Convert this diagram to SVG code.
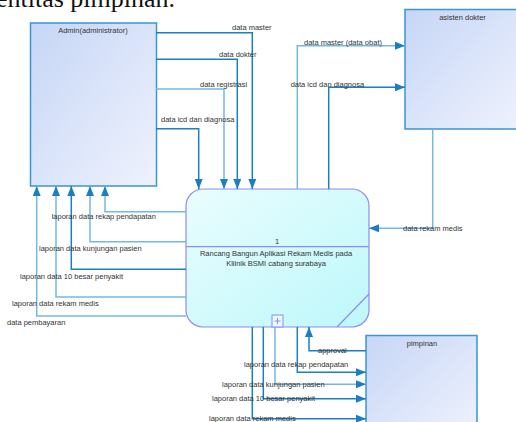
<svg xmlns="http://www.w3.org/2000/svg" width="516" height="422" viewBox="0 0 516 422">
<style>
.ent{stroke:#3a95d2;stroke-width:1.5;fill:url(#gEnt)}
.proc{stroke:#8c8cf2;stroke-width:1.2;fill:url(#gProc)}
.t{font-family:"Liberation Sans",Arial,sans-serif;font-size:7.5px;fill:#333}
.c{fill:none;stroke-width:1.5;marker-end:url(#ah)}
.d{stroke:#1a7fc2}
.l{stroke:#74b8e4}
.ttl{font-family:"Liberation Serif","Times New Roman",serif;font-size:26px;fill:#111}
</style>
<defs>
<linearGradient id="gEnt" x1="0" y1="0" x2="1" y2="1"><stop offset="0" stop-color="#c6d6f6"/><stop offset="1" stop-color="#eff2fd"/></linearGradient>
<linearGradient id="gProc" x1="0" y1="0" x2="1" y2="1"><stop offset="0" stop-color="#eafdfe"/><stop offset="1" stop-color="#bdf8fb"/></linearGradient>
<marker id="ah" markerUnits="userSpaceOnUse" markerWidth="10" markerHeight="8" viewBox="0 0 10 8" refX="10" refY="4" orient="auto"><path d="M0,0 L10,4 L0,8 Z" fill="#1a7fc2"/></marker>
</defs>
<rect width="516" height="422" fill="#fff"/>
<text class="ttl" x="-4" y="7.3">entitas pimpinan.</text>

<g id="admin"><rect class="ent" x="30.5" y="23" width="126" height="163"/><text class="t" x="93" y="33" text-anchor="middle">Admin(administrator)</text></g>
<g id="asisten"><rect class="ent" x="405" y="9.5" width="120" height="119.5"/><text class="t" x="462.5" y="19.5" text-anchor="middle">asisten dokter</text></g>
<g id="pimpinan"><rect class="ent" x="366" y="335.5" width="111" height="100"/><text class="t" x="422" y="346" text-anchor="middle">pimpinan</text></g>
<g id="process">
<rect class="proc" x="186" y="189" width="183" height="138" rx="17"/>
<line x1="186" y1="246.7" x2="369" y2="246.7" stroke="#8c8cf2" stroke-width="1.2"/>
<line x1="369" y1="294" x2="337" y2="327" stroke="#8c8cf2" stroke-width="1.2"/>
<text class="t" x="277" y="243.5" text-anchor="middle">1</text>
<text class="t" x="276" y="256" text-anchor="middle">Rancang  Bangun Aplikasi Rekam Medis pada</text>
<text class="t" x="276" y="266" text-anchor="middle">Kliinik BSMI cabang surabaya</text>
<rect x="272" y="315" width="11" height="12" fill="#e6fbfd" stroke="#8c8cf2" stroke-width="1"/>
<path d="M274.5,321 H280.5 M277.5,318 V324" stroke="#8c8cf2" stroke-width="1"/>
</g>

<g id="connectors">
<path class="c d" d="M156,32.7 H252.3 V189"/>
<path class="c d" d="M156,59.3 H237.3 V189"/>
<path class="c l" d="M156,89 H224 V189"/>
<path class="c d" d="M156,128.7 H198.7 V189"/>
<path class="c l" d="M297.3,189 V45.7 H405"/>
<path class="c d" d="M328.7,189 V87.3 H405"/>
<path class="c l" d="M432.7,129 V228.3 H369"/>
<path class="c l" d="M186,211.7 H105 V186"/>
<path class="c l" d="M186,241.7 H90 V186"/>
<path class="c d" d="M186,269.3 H71.3 V186"/>
<path class="c l" d="M186,297 H56 V186"/>
<path class="c l" d="M186,316 H36.7 V186"/>
<path class="c d" d="M366,350.7 H309 V327"/>
<path class="c d" d="M297.3,327 V372.3 H366"/>
<path class="c l" d="M275,327 V384.3 H366"/>
<path class="c d" d="M263.3,327 V398.7 H366"/>
<path class="c d" d="M252.3,327 V418.7 H366"/>
</g>
<g id="labels">
<text class="t" x="232" y="30">data master</text>
<text class="t" x="219" y="57">data dokter</text>
<text class="t" x="200" y="87">data registrasi</text>
<text class="t" x="161" y="122">data icd dan diagnosa</text>
<text class="t" x="304" y="45">data master (data obat)</text>
<text class="t" x="290.7" y="87">data icd dan diagnosa</text>
<text class="t" x="403" y="231">data rekam medis</text>
<text class="t" x="51.7" y="219">laporan data rekap pendapatan</text>
<text class="t" x="39" y="250.5">laporan data kunjungan pasien</text>
<text class="t" x="20" y="278.5">laporan data 10 besar penyakit</text>
<text class="t" x="12" y="305.5">laporan data rekam medis</text>
<text class="t" x="7" y="324.5">data pembayaran</text>
<text class="t" x="318" y="353">approval</text>
<text class="t" x="244" y="367">laporan data rekap pendapatan</text>
<text class="t" x="222" y="387">laporan data kunjungan pasien</text>
<text class="t" x="212" y="401">laporan data 10 besar penyakit</text>
<text class="t" x="209" y="420.5">laporan data rekam medis</text>
</g>
</svg>
